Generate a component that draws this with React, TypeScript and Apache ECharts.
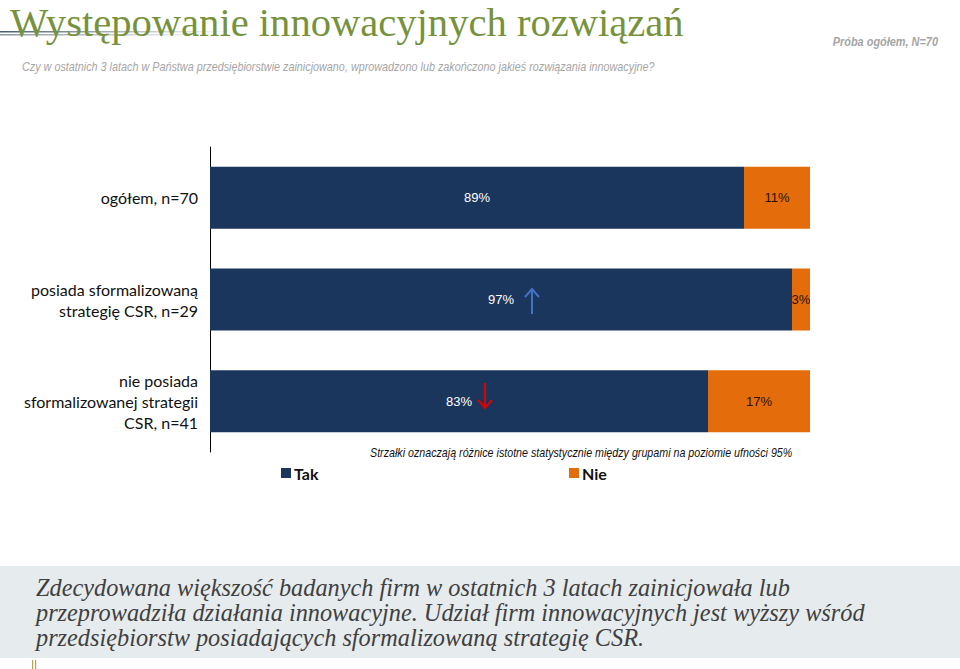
import React, { useEffect, useRef } from "react";
import * as echarts from "echarts";

const categories = [
  "ogółem, n=70",
  "posiada sformalizowaną\nstrategię CSR, n=29",
  "nie posiada\nsformalizowanej strategii\nCSR, n=41",
];
const takValues = [89, 97, 83];
const nieValues = [11, 3, 17];
const seriesNames = ["Tak", "Nie"];

const NAVY = "#1b365d";
const ORANGE = "#e46c0a";
const SANS = "Liberation Sans";

export default function App() {
  const ref = useRef<HTMLDivElement>(null);
  useEffect(() => {
    document.body.style.margin = "0";
    const chart = echarts.init(ref.current!, null, { renderer: "svg" });
    const labelFmt = (p: any) => p.value + "%";
    chart.setOption({
      animation: false,
      backgroundColor: "#ffffff",
      grid: { left: 210, width: 600, top: 147, height: 305 },
      xAxis: { type: "value", min: 0, max: 100, show: false },
      yAxis: {
        type: "category",
        data: categories,
        inverse: true,
        axisLine: { show: true, lineStyle: { color: "#000000", width: 1 } },
        axisTick: { show: false },
        axisLabel: {
          margin: 12,
          fontFamily: "Lato",
          fontSize: 16,
          lineHeight: 21,
          color: "#111111",
          align: "right",
        },
      },
      legend: [
        {
          data: [seriesNames[0]],
          left: 276,
          top: 460,
          itemWidth: 10,
          itemHeight: 10,
          icon: "rect",
          textStyle: { fontFamily: "Lato", fontWeight: "bold", fontSize: 16, color: "#111", padding: [0, 0, 0, -2] },
        },
        {
          data: [seriesNames[1]],
          left: 564,
          top: 460,
          itemWidth: 10,
          itemHeight: 10,
          icon: "rect",
          textStyle: { fontFamily: "Lato", fontWeight: "bold", fontSize: 16, color: "#111", padding: [0, 0, 0, -2] },
        },
      ],
      series: [
        {
          name: seriesNames[0],
          type: "bar",
          stack: "s",
          data: takValues,
          barWidth: "61%",
          itemStyle: { color: NAVY },
          label: {
            show: true,
            position: "inside",
            formatter: labelFmt,
            color: "#ffffff",
            fontFamily: SANS,
            fontSize: 13,
          },
        },
        {
          name: seriesNames[1],
          type: "bar",
          stack: "s",
          data: nieValues,
          barWidth: "61%",
          itemStyle: { color: ORANGE },
          label: {
            show: true,
            position: "inside",
            formatter: labelFmt,
            color: "#2a1200",
            fontFamily: SANS,
            fontSize: 13,
          },
        },
      ],
      graphic: [
        // decorative title lines
        {
          type: "rect",
          z: 100,
          shape: { x: 0, y: 31, width: 240, height: 1.5 },
          style: {
            fill: new echarts.graphic.LinearGradient(0, 0, 1, 0, [
              { offset: 0, color: "#4a5a6e" },
              { offset: 1, color: "rgba(120,130,140,0)" },
            ]),
          },
        },
        {
          type: "rect",
          z: 100,
          shape: { x: 0, y: 34, width: 240, height: 1.5 },
          style: {
            fill: new echarts.graphic.LinearGradient(0, 0, 1, 0, [
              { offset: 0, color: "#8a96a4" },
              { offset: 1, color: "rgba(160,170,180,0)" },
            ]),
          },
        },
        {
          type: "text",
          z: 101,
          left: 10,
          top: 2,
          style: {
            text: "Występowanie innowacyjnych rozwiązań",
            fontFamily: "Liberation Serif",
            fontSize: 40.6,
            fill: "#76923c",
          },
        },
        {
          type: "text",
          z: 100,
          x: 938,
          y: 35,
          scaleX: 0.84,
          style: {
            text: "Próba ogółem, N=70",
            align: "right",
            verticalAlign: "top",
            fontFamily: SANS,
            fontStyle: "italic",
            fontWeight: "bold",
            fontSize: 13,
            fill: "#a6a6a6",
          },
        },
        {
          type: "text",
          z: 100,
          x: 22,
          y: 60,
          scaleX: 0.832,
          style: {
            text: "Czy w ostatnich 3 latach w Państwa przedsiębiorstwie zainicjowano, wprowadzono lub zakończono jakieś rozwiązania innowacyjne?",
            verticalAlign: "top",
            fontFamily: SANS,
            fontStyle: "italic",
            fontSize: 13,
            fill: "#a6a6a6",
          },
        },
        {
          type: "text",
          z: 100,
          x: 370,
          y: 446,
          scaleX: 0.823,
          style: {
            text: "Strzałki oznaczają różnice istotne statystycznie między grupami na poziomie ufności 95%",
            verticalAlign: "top",
            fontFamily: SANS,
            fontStyle: "italic",
            fontSize: 13,
            fill: "#111111",
          },
        },
        // up arrow (blue)
        {
          type: "line",
          z: 100,
          shape: { x1: 532, y1: 290, x2: 532, y2: 314 },
          style: { stroke: "#4472c4", lineWidth: 2 },
        },
        {
          type: "polyline",
          z: 100,
          shape: { points: [[525, 297], [532, 289], [539, 297]] },
          style: { stroke: "#4472c4", lineWidth: 2, fill: "none" },
        },
        // down arrow (red)
        {
          type: "line",
          z: 100,
          shape: { x1: 485, y1: 383, x2: 485, y2: 408 },
          style: { stroke: "#e00000", lineWidth: 2 },
        },
        {
          type: "polyline",
          z: 100,
          shape: { points: [[478, 400], [485, 408], [492, 400]] },
          style: { stroke: "#e00000", lineWidth: 2, fill: "none" },
        },
        // bottom box
        {
          type: "rect",
          z: 99,
          shape: { x: 0, y: 566, width: 960, height: 92 },
          style: { fill: "#e6ebee" },
        },
        {
          type: "text",
          z: 100,
          left: 36,
          top: 575,
          style: {
            text:
              "Zdecydowana większość badanych firm w ostatnich 3 latach zainicjowała lub\nprzeprowadziła działania innowacyjne. Udział firm innowacyjnych jest wyższy wśród\nprzedsiębiorstw posiadających sformalizowaną strategię CSR.",
            fontFamily: "Liberation Serif",
            fontStyle: "italic",
            fontSize: 24.3,
            lineHeight: 25,
            fill: "#404040",
          },
        },
        {
          type: "rect",
          z: 100,
          shape: { x: 32, y: 660, width: 1.2, height: 9 },
          style: { fill: "#b7a74a" },
        },
        {
          type: "rect",
          z: 100,
          shape: { x: 35, y: 660, width: 1.2, height: 9 },
          style: { fill: "#b7a74a" },
        },
      ],
    });
    return () => chart.dispose();
  }, []);
  return (
    <div
      ref={ref}
      style={{ position: "absolute", left: 0, top: 0, width: 960, height: 669 }}
    />
  );
}
